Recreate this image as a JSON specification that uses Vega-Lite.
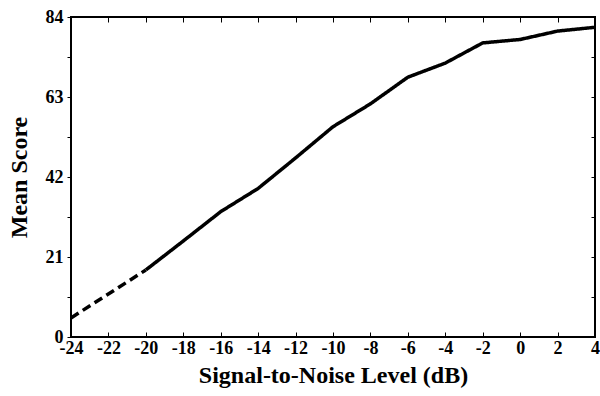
{
  "$schema": "https://vega.github.io/schema/vega-lite/v6.json",
  "width": 524,
  "height": 320,
  "autosize": {"type": "none"},
  "padding": {"left": 71, "top": 17, "right": 5, "bottom": 59},
  "background": "white",
  "config": {
    "view": {"stroke": "black", "strokeWidth": 2},
    "font": "Liberation Serif",
    "axis": {
      "labelFont": "Liberation Serif",
      "titleFont": "Liberation Serif",
      "labelFontWeight": "bold",
      "titleFontWeight": "bold",
      "labelColor": "black",
      "titleColor": "black",
      "tickColor": "black",
      "domainColor": "black",
      "grid": false
    }
  },
  "data": {
    "values": [
      {"snr": -24, "score": 5.0, "part": "dashed"},
      {"snr": -20, "score": 17.6, "part": "dashed"},
      {"snr": -20, "score": 17.6, "part": "solid"},
      {"snr": -18, "score": 25.2, "part": "solid"},
      {"snr": -16, "score": 32.9, "part": "solid"},
      {"snr": -14, "score": 39.0, "part": "solid"},
      {"snr": -12, "score": 47.0, "part": "solid"},
      {"snr": -10, "score": 55.2, "part": "solid"},
      {"snr": -8, "score": 61.2, "part": "solid"},
      {"snr": -6, "score": 68.2, "part": "solid"},
      {"snr": -4, "score": 71.9, "part": "solid"},
      {"snr": -2, "score": 77.2, "part": "solid"},
      {"snr": 0, "score": 78.1, "part": "solid"},
      {"snr": 2, "score": 80.3, "part": "solid"},
      {"snr": 4, "score": 81.3, "part": "solid"}
    ]
  },
  "layer": [
    {
      "mark": {"type": "line", "color": "black", "strokeWidth": 3.5, "strokeCap": "butt"},
      "encoding": {
        "x": {
          "field": "snr", "type": "quantitative",
          "scale": {"domain": [-24, 4], "nice": false, "zero": false},
          "axis": {
            "values": [-24, -22, -20, -18, -16, -14, -12, -10, -8, -6, -4, -2, 0, 2, 4],
            "labelExpr": "toString(datum.value)",
            "title": "Signal-to-Noise Level (dB)",
            "titleFontSize": 24,
            "titlePadding": 6,
            "labelFontSize": 18,
            "labelPadding": 7,
            "tickSize": -5,
            "domain": false,
            "labelFlush": false
          }
        },
        "y": {
          "field": "score", "type": "quantitative",
          "scale": {"domain": [0, 84], "nice": false},
          "axis": {
            "values": [0, 10.5, 21, 31.5, 42, 52.5, 63, 73.5, 84],
            "labelExpr": "datum.value % 21 == 0 ? toString(datum.value) : ''",
            "title": "Mean Score",
            "titleFontSize": 24,
            "titlePadding": 14,
            "labelFontSize": 18,
            "labelPadding": 4,
            "tickSize": 4,
            "domain": false,
            "labelFlush": false
          }
        },
        "strokeDash": {
          "field": "part", "type": "nominal",
          "scale": {"domain": ["dashed", "solid"], "range": [[9, 5], [1, 0]]},
          "legend": null
        }
      }
    },
    {
      "mark": {"type": "point", "opacity": 0},
      "encoding": {
        "x": {
          "field": "snr", "type": "quantitative",
          "scale": {"domain": [-24, 4], "nice": false, "zero": false},
          "axis": {"orient": "top", "values": [-24, -22, -20, -18, -16, -14, -12, -10, -8, -6, -4, -2, 0, 2, 4], "labels": false, "title": null, "tickSize": -5, "domain": false}
        },
        "y": {
          "field": "score", "type": "quantitative",
          "scale": {"domain": [0, 84], "nice": false},
          "axis": {"orient": "right", "values": [0, 10.5, 21, 31.5, 42, 52.5, 63, 73.5, 84], "labels": false, "title": null, "tickSize": -4, "domain": false}
        }
      }
    }
  ],
  "resolve": {"scale": {"x": "independent", "y": "independent"}, "axis": {"x": "independent", "y": "independent"}}
}
